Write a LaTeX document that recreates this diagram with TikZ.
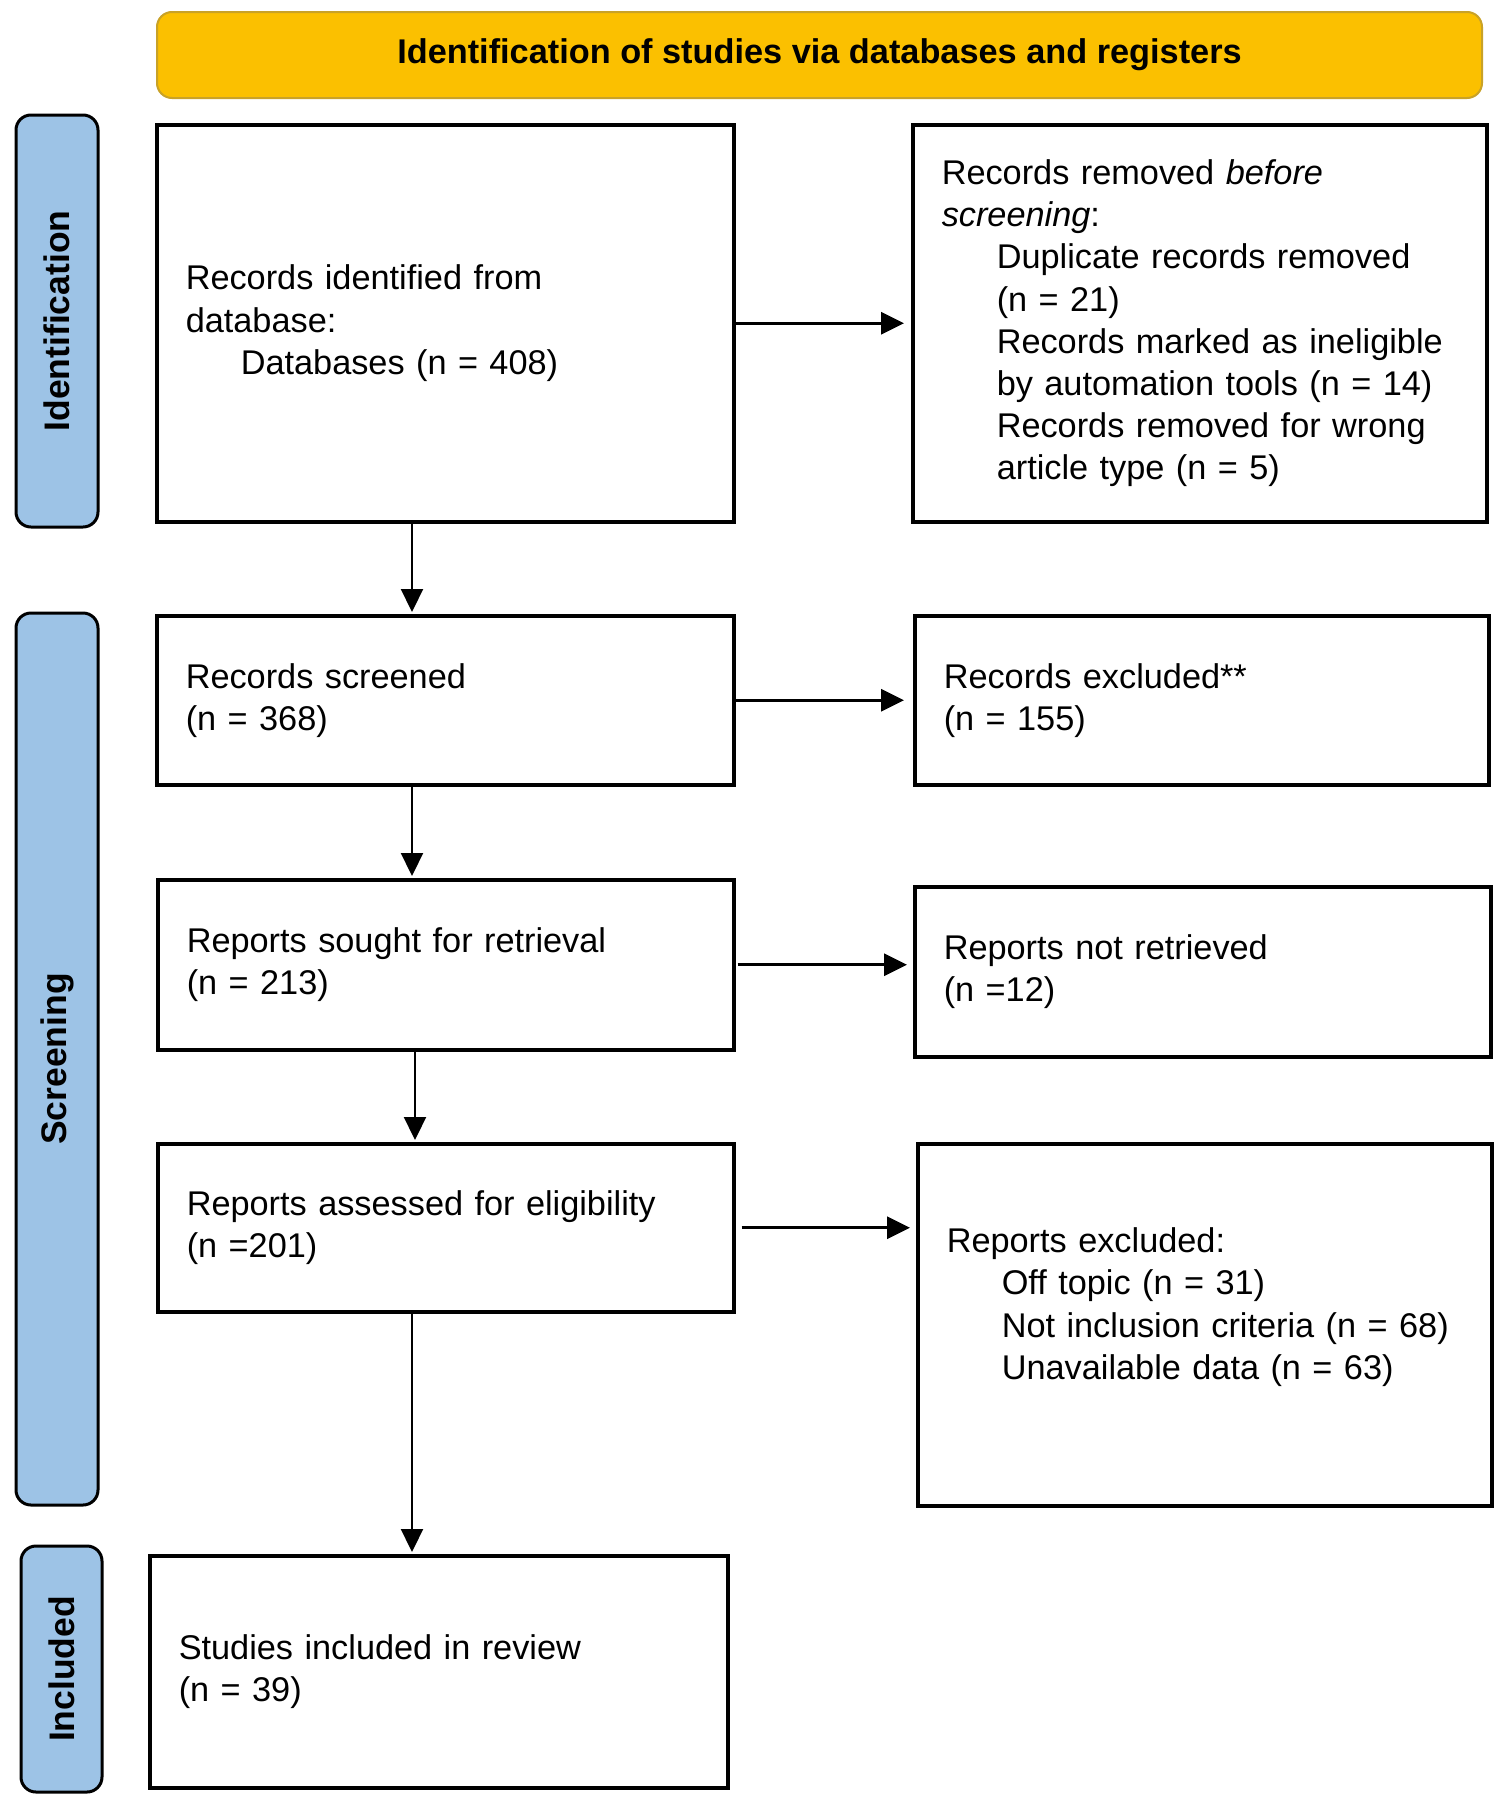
\documentclass[tikz,border=0pt]{standalone}
\usepackage{fontspec}
\setmainfont{Liberation Sans}
\usetikzlibrary{arrows.meta}
\definecolor{bannerfill}{HTML}{FBC000}
\definecolor{bannerline}{HTML}{C9A227}
\definecolor{sidefill}{HTML}{9DC3E6}
\newcommand{\fsmain}{\fontsize{34.3pt}{42.2pt}\selectfont}
\newcommand{\fsside}{\fontsize{35.5pt}{40pt}\selectfont\bfseries}
\newcommand{\ind}{\hspace*{55pt}}
\begin{document}
\begin{tikzpicture}[x=1pt,y=-1pt,
  flowbox/.style={draw, line width=3.5pt, align=left, inner xsep=29pt, inner ysep=0pt, anchor=north west, font=\fsmain},
  sidelabel/.style={draw, line width=3pt, fill=sidefill, rounded corners=15pt, rotate=90, font=\fsside, inner sep=0pt},
  banner/.style={draw=bannerline, line width=2pt, fill=bannerfill, rounded corners=15pt, font=\fsmain\bfseries, inner sep=0pt},
  harr/.style={line width=3pt, -{Triangle[length=23pt,width=22pt]}},
  varr/.style={line width=2.2pt, -{Triangle[length=23pt,width=22pt]}}
]
\useasboundingbox (0,0) rectangle (1502,1810);
\fill[white] (0,0) rectangle (1502,1810);

% banner
\node[banner, minimum width=1325pt, minimum height=86pt] (ban) at (819.5,55) {Identification of studies via databases and registers};

% side labels
\node[sidelabel, minimum width=412pt, minimum height=82pt] (lid) at (57,321) {Identification};
\node[sidelabel, minimum width=892pt, minimum height=82pt] (lsc) at (57,1059) {Screening};
\node[sidelabel, minimum width=246pt, minimum height=81pt] (lin) at (61.5,1669) {Included};

% boxes
\node[flowbox, minimum width=577pt, minimum height=397pt, text width=519pt] (b1) at (155,123)
  {Records identified from\\database:\\\ind Databases (n = 408)};
\node[flowbox, minimum width=574pt, minimum height=397pt, text width=516pt] (b2) at (911,123)
  {Records removed \textit{before}\\\textit{screening}:\\\ind Duplicate records removed\\\ind (n = 21)\\\ind Records marked as ineligible\\\ind by automation tools (n = 14)\\\ind Records removed for wrong\\\ind article type (n = 5)};
\node[flowbox, minimum width=577pt, minimum height=169pt, text width=519pt] (b3) at (155,614)
  {Records screened\\(n = 368)};
\node[flowbox, minimum width=574pt, minimum height=169pt, text width=516pt] (b4) at (913,614)
  {Records excluded**\\(n = 155)};
\node[flowbox, minimum width=576pt, minimum height=170pt, text width=518pt] (b5) at (156,878)
  {Reports sought for retrieval\\(n = 213)};
\node[flowbox, minimum width=576pt, minimum height=170pt, text width=518pt] (b6) at (913,885)
  {Reports not retrieved\\(n =12)};
\node[flowbox, minimum width=576pt, minimum height=168pt, text width=518pt] (b7) at (156,1142)
  {Reports assessed for eligibility\\(n =201)};
\node[flowbox, minimum width=574pt, minimum height=362pt, text width=516pt] (b8) at (916,1142)
  {Reports excluded:\\\ind Off topic (n = 31)\\\ind Not inclusion criteria (n = 68)\\\ind Unavailable data (n = 63)\\\mbox{}};
\node[flowbox, minimum width=578pt, minimum height=232pt, text width=520pt] (b9) at (148,1554)
  {Studies included in review\\(n = 39)};

% arrow columns
\coordinate (ax) at (412,0);
\coordinate (ax2) at (415,0);

% vertical arrows
\draw[varr, shorten >=2pt] (b1.south -| ax) -- (b3.north -| ax);
\draw[varr, shorten >=2pt] (b3.south -| ax) -- (b5.north -| ax);
\draw[varr, shorten >=2pt] (b5.south -| ax2) -- (b7.north -| ax2);
\draw[varr, shorten >=2pt] (b7.south -| ax) -- (b9.north -| ax);

% horizontal arrows
\draw[harr, shorten >=7pt] (b1.east) -- (b1.east -| b2.west);
\draw[harr, shorten >=9pt] (b3.east) -- (b3.east -| b4.west);
\draw[harr, shorten >=6pt, shorten <=2pt] (b5.east) -- (b5.east -| b6.west);
\draw[harr, shorten >=6pt, shorten <=6pt] (b7.east) -- (b7.east -| b8.west);
\end{tikzpicture}
\end{document}
